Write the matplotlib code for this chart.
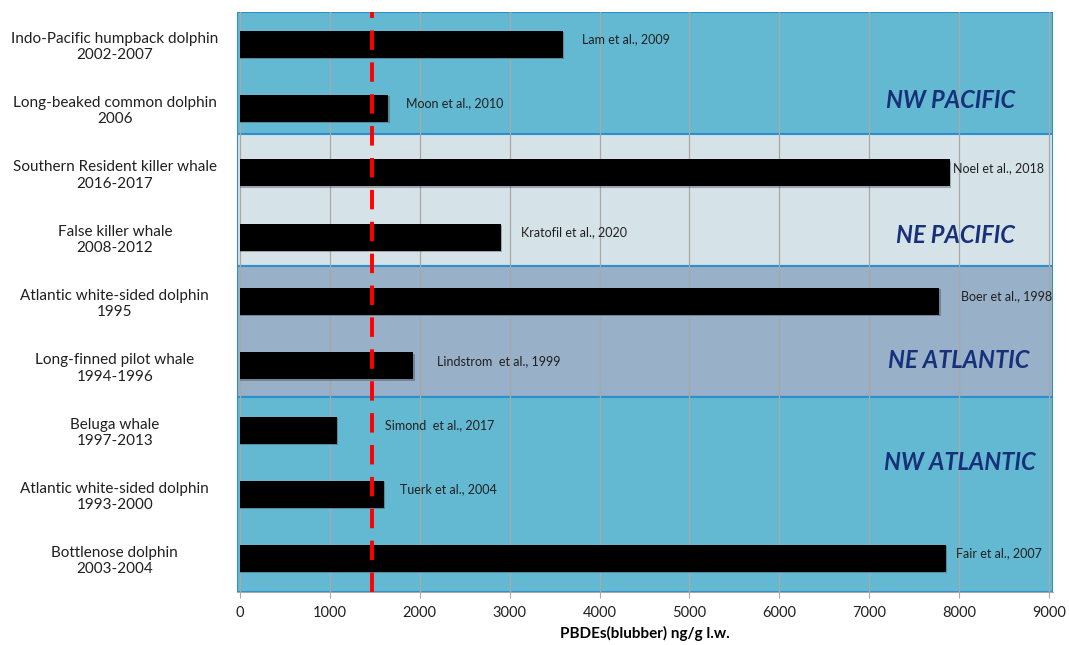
import matplotlib.pyplot as plt
import matplotlib.patches as mpatches

# dados
especies = ["Indo-Pacific humpback dolphin\n2002-2007",
            "Long-beaked common dolphin\n2006",
            "Southern Resident killer whale\n2016-2017",
            "False killer whale\n2008-2012",
            "Atlantic white-sided dolphin\n1995",
            "Long-finned pilot whale\n1994-1996",
            "Beluga whale\n1997-2013",
            "Atlantic white-sided dolphin\n1993-2000",
            "Bottlenose dolphin\n2003-2004"]
pbdes = [3590, 1650, 7900, 2900, 7780, 1930, 1080, 1600, 7850]
referencias = ["Lam et al., 2009", "Moon et al., 2010", "Noel et al., 2018",
               "Kratofil et al., 2020", "Boer et al., 1998", "Lindstrom  et al., 1999",
               "Simond  et al., 2017", "Tuerk et al., 2004", "Fair et al., 2007"]
pos_referencias = [3810, 1850, 7930, 3130, 8020, 2190, 1610, 1780, 7960]
limiar = 1470

regioes = ["NW PACIFIC", "NE PACIFIC", "NE ATLANTIC", "NW ATLANTIC"]
limites_regioes = [(-0.5, 1.4), (1.4, 3.45), (3.45, 5.48), (5.48, 8.52)]
pos_regioes = [(7900, 0.88), (7960, 2.98), (7990, 4.92), (8010, 6.5)]
cores_regioes = ["#63B9D1", "#D5E3E8", "#98B0C8", "#63B9D1"]

fonte = ['Liberation Sans Narrow', 'Lato', 'DejaVu Sans']
plt.rcParams['font.family'] = fonte

fig = plt.figure(figsize=(10.69, 6.45), dpi=100)
ax = fig.add_axes([0.2217, 0.082, 0.7634, 0.899])

ax.set_xlim(-33, 9045)
ax.set_ylim(8.52, -0.5)

for (y0, y1), cor in zip(limites_regioes, cores_regioes):
    ax.add_patch(mpatches.Rectangle((-33, y0), 9078, y1 - y0, facecolor=cor,
                                    edgecolor="#2E8FD0", linewidth=1.5, zorder=0))

ax.set_xticks(range(0, 9001, 1000))
ax.grid(axis='x', color='#A8A8A8', linewidth=0.9, zorder=1)
ax.set_axisbelow(True)

y = list(range(len(especies)))
# sombra leve
ax.barh([v + 0.02 for v in y], [p + 15 for p in pbdes], height=0.42,
        color='#333333', alpha=0.35, zorder=2)
ax.barh(y, pbdes, height=0.42, color='black', zorder=3)

ax.axvline(limiar, color='#FF0000', linewidth=2.8, dashes=(5, 3.2), zorder=4)

for yi, ref, xr in zip(y, referencias, pos_referencias):
    ax.text(xr, yi - 0.08, ref, fontsize=9, va='center', ha='left', color='#202020', zorder=5)

for nome, (xr, yr) in zip(regioes, pos_regioes):
    ax.text(xr, yr, nome, fontsize=17, fontweight='bold', fontstyle='italic',
            color='#16307A', ha='center', va='center', zorder=5)

ax.set_yticks(y)
ax.set_yticklabels(especies, fontsize=11, color='#202020')
for lbl in ax.get_yticklabels():
    lbl.set_ha('center')
    lbl.set_multialignment('center')
ax.tick_params(axis='y', length=0, pad=88)
ax.tick_params(axis='x', length=4, color='#A8A8A8', labelsize=10.5, labelcolor='#202020', pad=6)

for lado in ['top', 'right', 'left']:
    ax.spines[lado].set_visible(False)
ax.spines['bottom'].set_color('#A8A8A8')

ax.set_xlabel("PBDEs(blubber) ng/g l.w.", fontsize=11, fontweight='bold', labelpad=4)

fig.savefig("out.png", dpi=100)
